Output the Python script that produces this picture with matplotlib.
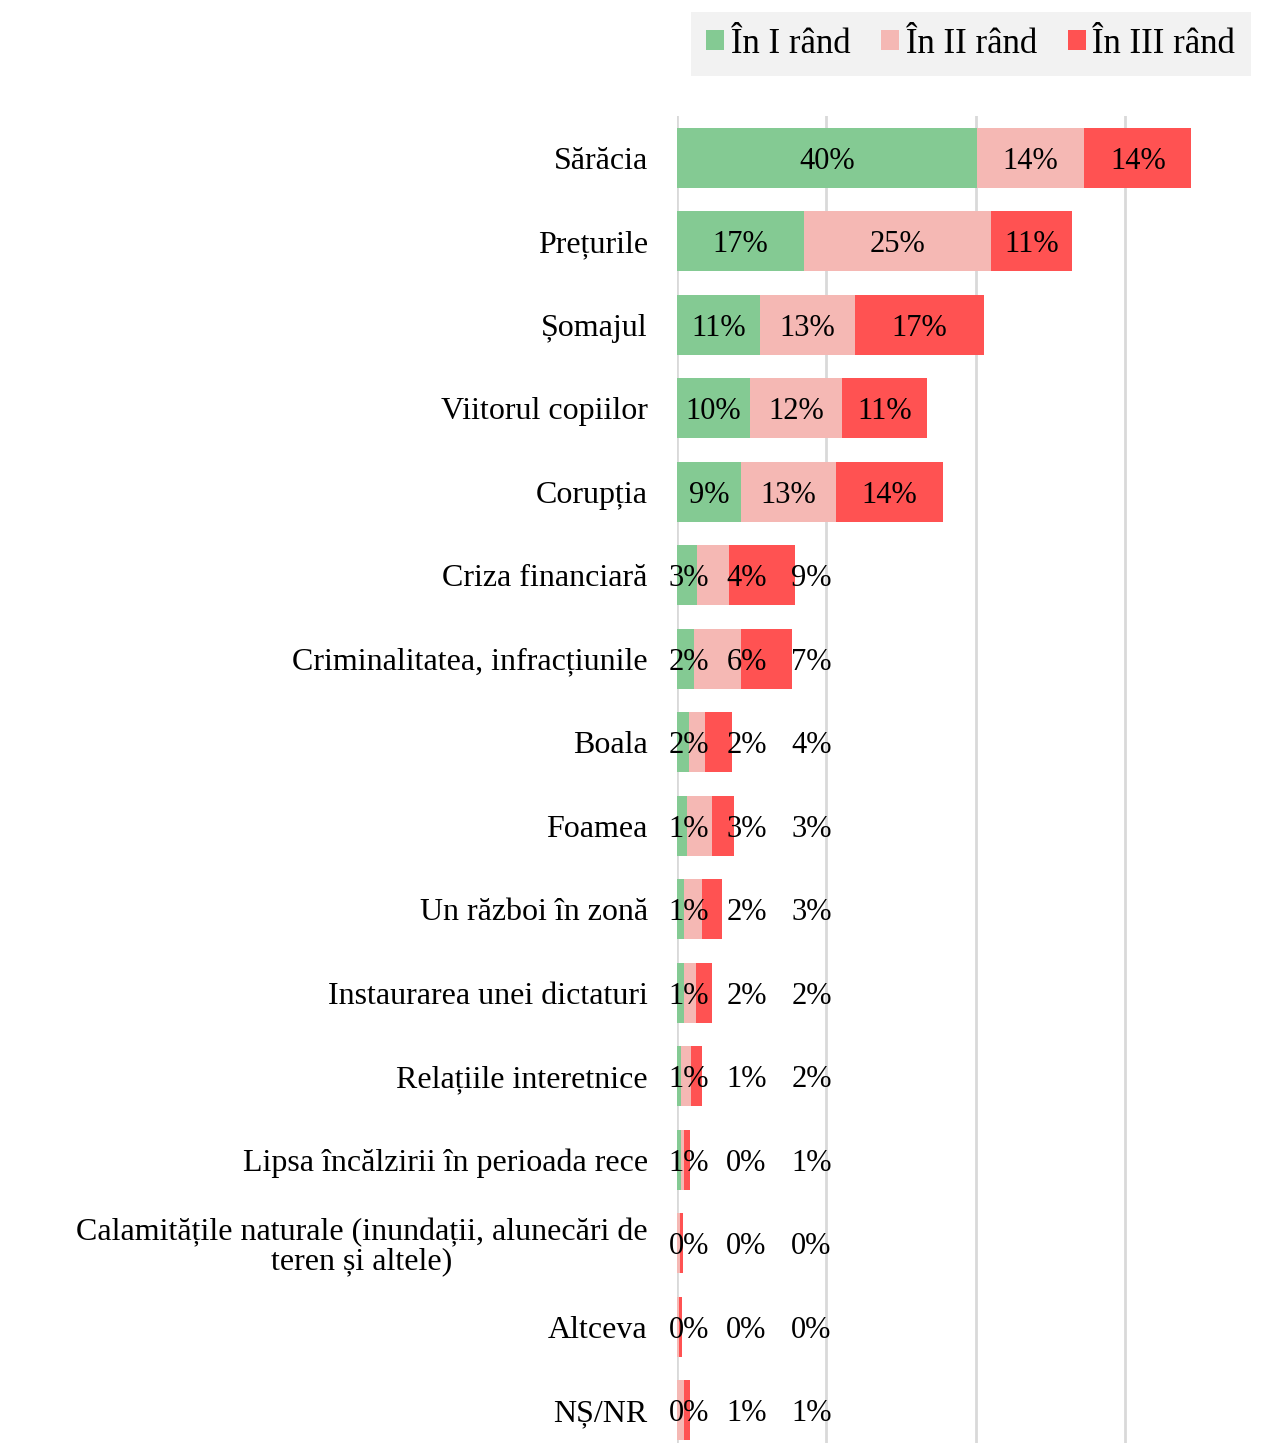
import matplotlib
matplotlib.use("Agg")
import matplotlib.pyplot as plt
import numpy as np
from matplotlib.patches import Patch

#--- DATA ---
categories = [
    "Sărăcia", "Prețurile", "Șomajul", "Viitorul copiilor", "Corupția",
    "Criza financiară", "Criminalitatea, infracțiunile", "Boala", "Foamea",
    "Un război în zonă", "Instaurarea unei dictaturi", "Relațiile interetnice",
    "Lipsa încălzirii în perioada rece",
    "Calamitățile naturale (inundații, alunecări de\nteren și altele)",
    "Altceva", "NȘ/NR",
]
first_rank = [40.1, 17.0, 11.1, 9.8, 8.6, 2.7, 2.3, 1.6, 1.4, 1.0, 0.9, 0.6, 0.6, 0.0, 0.0, 0.0]
second_rank = [14.4, 25.0, 12.7, 12.3, 12.7, 4.3, 6.3, 2.1, 3.3, 2.4, 1.7, 1.3, 0.4, 0.4, 0.3, 0.9]
third_rank = [14.3, 10.8, 17.3, 11.4, 14.3, 8.8, 6.8, 3.7, 2.9, 2.6, 2.1, 1.5, 0.8, 0.4, 0.4, 0.8]
series_names = ["În I rând", "În II rând", "În III rând"]

#--- STYLE ---
colors = ["#84CA93", "#F5B8B4", "#FF5252"]
font = "Liberation Serif"
cat_size = 23
lab_size = 22
leg_size = 25
plt.rcParams["font.family"] = [font, "DejaVu Serif"]

def pct(v):
    # half-up rounding like excel
    return f"{int(np.floor(v + 0.5))}%"

#--- FIGURE ---
fig = plt.figure(figsize=(12.68, 14.43), dpi=100)
W, H = 1268, 1443
ax = fig.add_axes([677 / W, 1 - 1452 / H, (1260 - 677) / W, (1452 - 116) / H])

y = np.arange(len(categories))
series = [first_rank, second_rank, third_rank]
left = np.zeros(len(categories))
for vals, col in zip(series, colors):
    ax.barh(y, vals, left=left, height=0.72, color=col, edgecolor="none", zorder=2)
    left = left + np.array(vals)

#--- DATA LABELS ---
outside_x = [1.6, 9.3, 18.0]  # where excel pushed the labels of the thin bars
for i in range(len(categories)):
    total = first_rank[i] + second_rank[i] + third_rank[i]
    start = 0
    for k, vals in enumerate(series):
        v = vals[i]
        if total > 20:
            x = start + v / 2
        else:
            x = outside_x[k]
        ax.text(x, i, pct(v), ha="center", va="center_baseline",
                fontsize=lab_size, zorder=3)
        start += v

#--- AXES ---
ax.set_xlim(0, 78)
ax.set_ylim(len(categories) - 0.5, -0.5)
ax.set_xticks([0, 20, 40, 60])
ax.xaxis.grid(True, color="#D9D9D9", linewidth=2, zorder=0)
ax.tick_params(axis="x", length=0, labelbottom=False)
ax.tick_params(axis="y", length=0, pad=21)
ax.set_yticks(y)
ax.set_yticklabels(categories, fontsize=cat_size, linespacing=1.0)
for lbl in ax.get_yticklabels():
    lbl.set_horizontalalignment("right")
    lbl.set_multialignment("center")
for s in ax.spines.values():
    s.set_visible(False)

#--- LEGEND ---
handles = [Patch(facecolor=c, edgecolor="none") for c in colors]
leg = fig.legend(handles, series_names, loc="upper right",
                 bbox_to_anchor=(1251 / W, 1 - 12 / H), ncol=3, fontsize=leg_size,
                 frameon=True, fancybox=False, framealpha=1,
                 handlelength=0.5, handleheight=0.5, handletextpad=0.2,
                 columnspacing=0.9, borderpad=0.45, borderaxespad=0)
leg.get_frame().set_facecolor("#F2F2F2")
leg.get_frame().set_edgecolor("none")

fig.savefig("out.png", dpi=100)
